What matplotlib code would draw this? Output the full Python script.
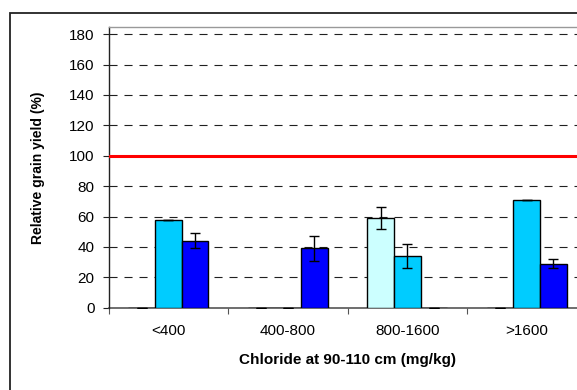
import matplotlib
matplotlib.use("Agg")
import matplotlib.pyplot as plt
import numpy as np
from matplotlib.patches import Rectangle

# Relative grain yield by subsoil chloride class
categories = ['<400', '400-800', '800-1600', '>1600']
yield_a = [0, 0, 59, 0]
err_a = [0, 0, 7, 0]
yield_b = [58, 0, 34, 71]
err_b = [0, 0, 8, 0]
yield_c = [44, 39, 0, 29]
err_c = [5, 8, 0, 3]
reference_level = 100

series = [
    (yield_a, err_a, '#CCFFFF'),
    (yield_b, err_b, '#00CCFF'),
    (yield_c, err_c, '#0000FF'),
]

plt.rcParams['font.family'] = ['Liberation Sans', 'DejaVu Sans']
plt.rcParams['lines.scale_dashes'] = False

W, H = 577, 390
fig = plt.figure(figsize=(W / 100, H / 100), dpi=100)
fig.patch.set_facecolor('white')

# plot area runs a little past the right edge of the canvas
x0, x1 = 108.5, 586.5
y_bot, y_top = 307.7, 27.0
ax = fig.add_axes([x0 / W, 1 - y_bot / H, (x1 - x0) / W, (y_bot - y_top) / H])

# outer chart frame (right and bottom sides fall outside the canvas)
fig.patches.append(Rectangle((10 / W, -0.1), 1.2, 1 - 12.7 / H + 0.1,
                             transform=fig.transFigure, fill=False,
                             edgecolor='#222222', linewidth=1.3))

n = len(categories)
bar_w = 1 / 4.5
centers = np.arange(n) + 0.5

for i, (vals, errs, col) in enumerate(series):
    xs = centers + (i - 1) * bar_w
    ax.bar(xs, vals, width=bar_w, color=col, edgecolor='black',
           linewidth=1.0, zorder=3)
    ax.errorbar(xs, vals, yerr=errs, fmt='none', ecolor='black',
                elinewidth=1.0, capsize=3.6, capthick=1.0, zorder=4)

ax.axhline(reference_level, color='#FF0000', linewidth=2.2, zorder=5)

ax.set_xlim(0, n)
ax.set_ylim(0, 184.7)
ax.set_yticks(np.arange(0, 181, 20))
for v in np.arange(20, 181, 20):
    ax.axhline(v, color='#202020', linewidth=0.8, dashes=(5.8, 5.0), zorder=1)

# category boundaries get ticks, labels sit at the centres
ax.set_xticks(np.arange(n + 1))
ax.set_xticklabels([])
ax.set_xticks(centers, minor=True)
ax.set_xticklabels(categories, minor=True)
ax.tick_params(axis='x', which='major', length=4, width=0.8, color='#555555',
               direction='out')
ax.tick_params(axis='x', which='minor', length=0, pad=12, labelsize=11)
ax.tick_params(axis='y', length=4, width=0.8, color='#222222', direction='out',
               pad=6, labelsize=11)

ax.spines['left'].set_color('#222222')
ax.spines['left'].set_linewidth(1.0)
ax.spines['bottom'].set_color('#555555')
ax.spines['bottom'].set_linewidth(1.2)
ax.spines['bottom'].set_zorder(2)
ax.spines['top'].set_color('#999999')
ax.spines['top'].set_linewidth(1.0)
ax.spines['right'].set_visible(False)

ax.set_ylabel('Relative grain yield (%)', fontsize=10, fontweight='bold')
ax.yaxis.set_label_coords((45 - x0) / (x1 - x0), 0.5)
ax.set_xlabel('Chloride at 90-110 cm (mg/kg)', fontsize=11, fontweight='bold')
ax.xaxis.label.set_va('center')
ax.xaxis.set_label_coords(0.5, -(360 - y_bot) / (y_bot - y_top))

fig.savefig('out.png', dpi=100)
